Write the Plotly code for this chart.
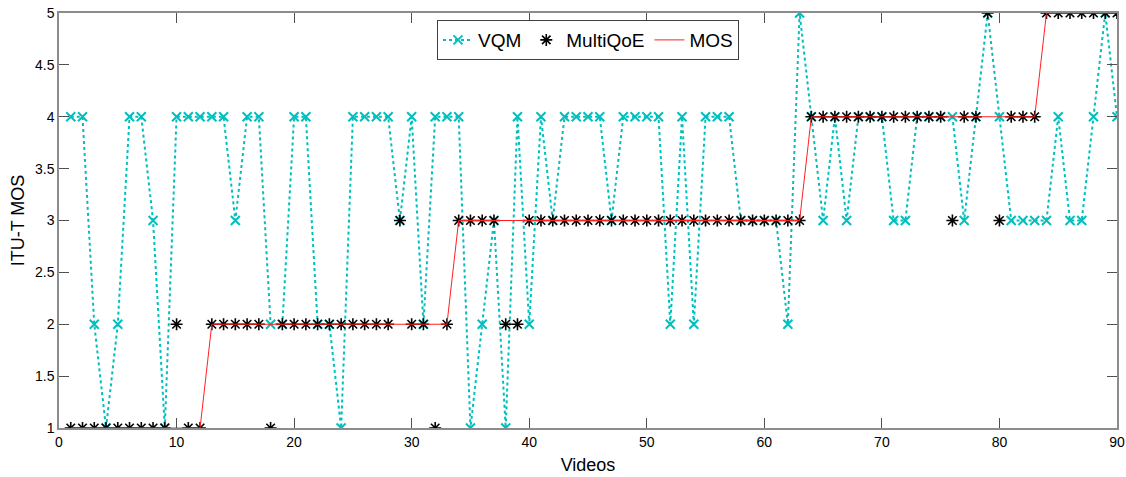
import plotly.graph_objects as go

videos = list(range(1, 91))
vqm = [4, 4, 2, 1, 2, 4, 4, 3, 1, 4,
       4, 4, 4, 4, 3, 4, 4, 2, 2, 4,
       4, 2, 2, 1, 4, 4, 4, 4, 3, 4,
       2, 4, 4, 4, 1, 2, 3, 1, 4, 2,
       4, 3, 4, 4, 4, 4, 3, 4, 4, 4,
       4, 2, 4, 2, 4, 4, 4, 3, 3, 3,
       3, 2, 5, 4, 3, 4, 3, 4, 4, 4,
       3, 3, 4, 4, 4, 4, 3, 4, 5, 4,
       3, 3, 3, 3, 4, 3, 3, 4, 5, 4]
multiqoe = [1, 1, 1, 1, 1, 1, 1, 1, 1, 2,
            1, 1, 2, 2, 2, 2, 2, 1, 2, 2,
            2, 2, 2, 2, 2, 2, 2, 2, 3, 2,
            2, 1, 2, 3, 3, 3, 3, 2, 2, 3,
            3, 3, 3, 3, 3, 3, 3, 3, 3, 3,
            3, 3, 3, 3, 3, 3, 3, 3, 3, 3,
            3, 3, 3, 4, 4, 4, 4, 4, 4, 4,
            4, 4, 4, 4, 4, 3, 4, 4, 5, 3,
            4, 4, 4, 5, 5, 5, 5, 5, 5, 5]
mos = [1] * 12 + [2] * 21 + [3] * 30 + [4] * 20 + [5] * 7

x_ticks = [0, 10, 20, 30, 40, 50, 60, 70, 80, 90]
y_ticks = [1, 1.5, 2, 2.5, 3, 3.5, 4, 4.5, 5]
y_tick_text = ["1", "1.5", "2", "2.5", "3", "3.5", "4", "4.5", "5"]

CYAN = "#00BFBF"
FONT = "Liberation Sans, Arial, sans-serif"

fig = go.Figure()
fig.add_trace(go.Scatter(
    x=videos, y=vqm, name="VQM", mode="lines+markers",
    line=dict(color=CYAN, width=2, dash="dot"),
    marker=dict(symbol="x-thin", size=9, color=CYAN,
                line=dict(color=CYAN, width=2)),
))
fig.add_trace(go.Scatter(
    x=videos, y=multiqoe, name="MultiQoE", mode="markers",
    marker=dict(symbol="asterisk", size=10, color="black",
                line=dict(color="black", width=1.6)),
))
fig.add_trace(go.Scatter(
    x=videos, y=mos, name="MOS", mode="lines",
    line=dict(color="#FF2020", width=1),
))

axis_common = dict(
    showline=True, linecolor="#8C8C8C", linewidth=1.5, mirror="ticks",
    ticks="inside", ticklen=10, tickcolor="#505050", tickwidth=1,
    showgrid=False, zeroline=False, automargin=False,
    ticklabeloverflow="allow",
    tickfont=dict(family=FONT, size=14, color="black"),
)

fig.update_layout(
    width=1126, height=477,
    margin=dict(l=59, r=9, t=13, b=49),
    paper_bgcolor="white", plot_bgcolor="white",
    font=dict(family=FONT, color="black"),
    xaxis=dict(range=[0, 90], tickvals=x_ticks,
               title=dict(text="Videos", font=dict(size=18), standoff=10),
               **axis_common),
    yaxis=dict(range=[1, 5], tickvals=y_ticks, ticktext=y_tick_text,
               title=dict(text="ITU-T MOS", font=dict(size=18), standoff=6),
               **axis_common),
    legend=dict(orientation="h", x=0.5, xanchor="center", y=0.983, yanchor="top",
                bgcolor="white", bordercolor="#404040", borderwidth=1,
                font=dict(family=FONT, size=19), itemwidth=30,
                tracegroupgap=0),
    showlegend=True,
)

fig.write_html("out.html",
               config={"displayModeBar": False},
               post_script="document.body.style.margin='0';document.body.style.overflow='hidden';")
